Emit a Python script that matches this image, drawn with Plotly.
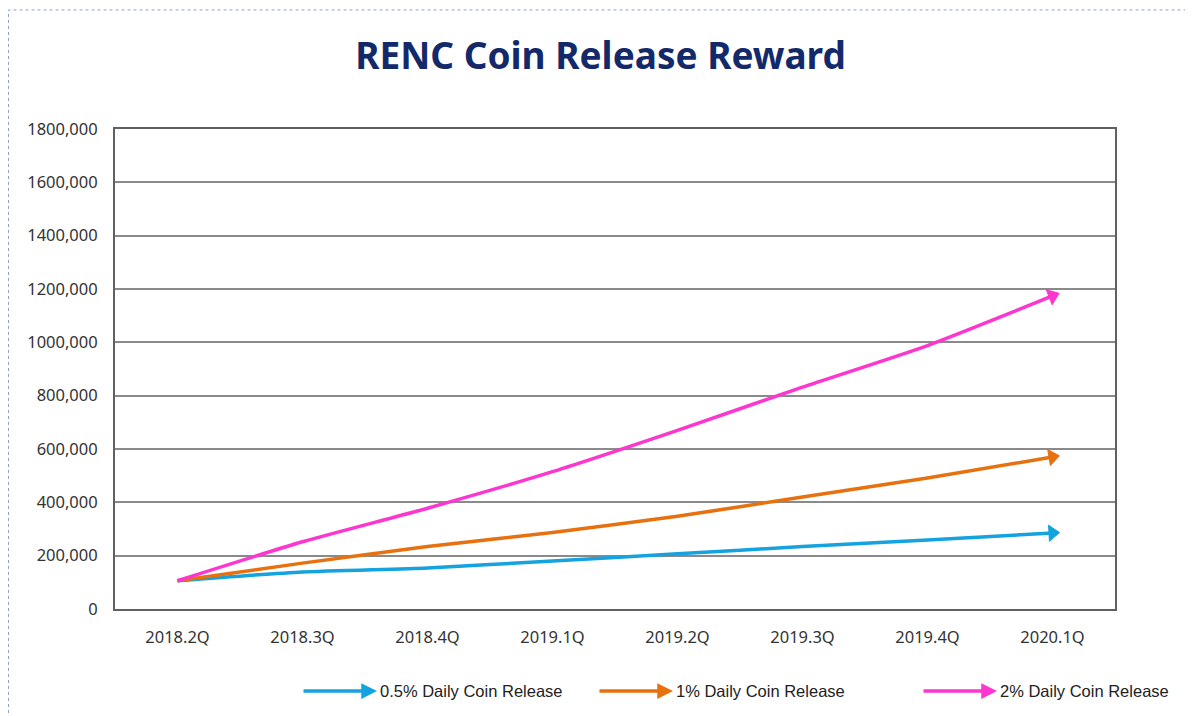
import plotly.graph_objects as go

quarters = ["2018.2Q", "2018.3Q", "2018.4Q", "2019.1Q", "2019.2Q", "2019.3Q", "2019.4Q", "2020.1Q"]
release_05 = [106000, 139000, 154000, 180000, 207000, 234000, 259000, 285000]
release_1 = [106000, 172000, 234000, 287000, 348000, 420000, 491000, 570000]
release_2 = [106000, 252000, 378000, 515000, 670000, 832000, 988000, 1174000]
series_names = ["0.5% Daily Coin Release", "1% Daily Coin Release", "2% Daily Coin Release"]
series_colors = ["#14a3de", "#e8710f", "#fc36cf"]
y_tickvals = [0, 200000, 400000, 600000, 800000, 1000000, 1200000, 1400000, 1600000, 1800000]
y_ticktext = ["0", "200,000", "400,000", "600,000", "800,000", "1000,000", "1200,000", "1400,000", "1600,000", "1800,000"]

fig = go.Figure()
for name, vals, col in zip(series_names, [release_05, release_1, release_2], series_colors):
    n = len(vals)
    fig.add_trace(go.Scatter(
        x=quarters, y=vals, name=name, mode="lines+markers",
        line=dict(color=col, width=3.5, shape="spline", smoothing=0.6),
        marker=dict(symbol="triangle-up", angleref="previous", color=col, opacity=1,
                    size=[0] * (n - 1) + [14], line=dict(width=1, color=col)),
        showlegend=False,
    ))

# custom legend (arrow glyph + label)
legend_tips = [0.262, 0.558, 0.882]
for name, col, xt in zip(series_names, series_colors, legend_tips):
    fig.add_annotation(x=xt, y=-0.171, xref="paper", yref="paper", text="",
                       showarrow=True, ax=-75, ay=0, arrowhead=2, arrowsize=0.9,
                       arrowwidth=3.5, arrowcolor=col)
    fig.add_annotation(x=xt + 0.001, y=-0.171, xref="paper", yref="paper", text=name,
                       showarrow=False, xanchor="left", yanchor="middle",
                       font=dict(family="Liberation Sans", size=16.5, color="#222222"))

# outer dotted frame
fig.add_shape(type="rect", xref="paper", yref="paper", x0=-0.1065, x1=1.2, y0=-0.3, y1=1.248,
              line=dict(color="#8ea3c8", width=1, dash="dot"), fillcolor="rgba(0,0,0,0)", layer="below")

fig.update_layout(
    width=1185, height=708,
    margin=dict(l=107, r=78, t=121, b=107),
    paper_bgcolor="white", plot_bgcolor="white",
    title=dict(text="<b>RENC Coin Release Reward</b>", x=0.5, xanchor="center", y=0.932, yanchor="middle",
               font=dict(family="Noto Sans", size=37, color="#14296a")),
    xaxis=dict(type="category", range=[-0.5, 7.5], showgrid=False, showline=True, mirror=True,
               linecolor="#606060", linewidth=2, ticks="", ticklabelstandoff=12,
               tickfont=dict(family="Noto Sans", size=16.5, color="#333333")),
    yaxis=dict(range=[0, 1800000], tickvals=y_tickvals, ticktext=y_ticktext,
               showgrid=True, gridcolor="#8a8a8a", gridwidth=2, zeroline=False,
               showline=True, mirror=True, linecolor="#606060", linewidth=2,
               ticks="", ticklabelstandoff=12,
               tickfont=dict(family="Noto Sans", size=16.5, color="#333333")),
)

fig.write_html("out.html")
